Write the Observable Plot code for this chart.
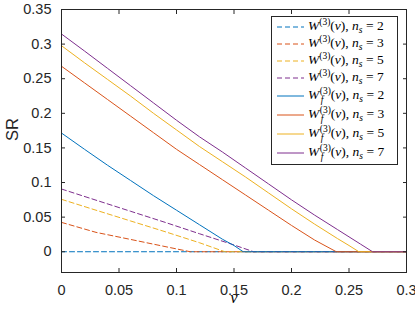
<!DOCTYPE html>
<html>
<head>
<meta charset="utf-8">
<script src="https://cdn.jsdelivr.net/npm/d3@7"></script>
<script src="https://cdn.jsdelivr.net/npm/@observablehq/plot@0.6"></script>
<style>
  body { margin: 0; background: #fff; }
  #wrap { position: relative; width: 415px; height: 316px; overflow: hidden; }
  #legend { position: absolute; left: 271px; top: 16px; width: 127px; height: 149px; box-sizing: border-box;
            border: 1px solid #262626; background: #fff; padding-top: 1px;
            font-family: "Liberation Serif", "DejaVu Serif", serif; font-size: 13.5px; color: #000; }
  .row { display: flex; align-items: center; height: 17px; white-space: nowrap; }
  .row.tall { height: 19px; }
  .row svg { margin-left: 5px; margin-right: 4px; flex: none; }
  .txt { line-height: 13px; }
  .sup { font-size: 9.5px; position: relative; top: -5px; }
  .sub { font-size: 9.5px; position: relative; top: 3px; font-style: italic; }
  .stack { display: inline-flex; flex-direction: column; vertical-align: middle; font-size: 9.5px; line-height: 8.5px; margin-left: 0.5px; }
  .stack .s2 { font-style: italic; padding-left: 1px; }
</style>
</head>
<body>
<div id="wrap"></div>
<script>
// ---- data ----
const seriesKeys = ["W_ns2", "W_ns3", "W_ns5", "W_ns7", "Wf_ns2", "Wf_ns3", "Wf_ns5", "Wf_ns7"];
const nsValues = [2, 3, 5, 7, 2, 3, 5, 7];
const isFeasible = [false, false, false, false, true, true, true, true];

// [v, SR]
const W_ns2 = [[0, 0], [0.3, 0]];
const W_ns3 = [[0, 0.0424], [0.03, 0.028], [0.06, 0.0178], [0.09, 0.0075], [0.112, 0], [0.3, 0]];
const W_ns5 = [[0, 0.0757], [0.03, 0.06], [0.06, 0.0445], [0.09, 0.029], [0.12, 0.013], [0.142, 0], [0.3, 0]];
const W_ns7 = [[0, 0.0906], [0.03, 0.0745], [0.06, 0.0585], [0.09, 0.0425], [0.12, 0.026], [0.15, 0.0098], [0.167, 0], [0.3, 0]];
const Wf_ns2 = [[0, 0.1715], [0.02, 0.148], [0.04, 0.125], [0.06, 0.103], [0.08, 0.081], [0.1, 0.06], [0.12, 0.039], [0.14, 0.018], [0.15, 0.009], [0.158, 0], [0.3, 0]];
const Wf_ns3 = [[0, 0.268], [0.02, 0.244], [0.04, 0.22], [0.06, 0.196], [0.08, 0.172], [0.1, 0.148], [0.12, 0.126], [0.14, 0.104], [0.16, 0.082], [0.18, 0.06], [0.2, 0.038], [0.22, 0.017], [0.23, 0.008], [0.239, 0], [0.3, 0]];
const Wf_ns5 = [[0, 0.2977], [0.02, 0.273], [0.04, 0.249], [0.06, 0.225], [0.08, 0.2], [0.1, 0.176], [0.12, 0.152], [0.14, 0.13], [0.16, 0.108], [0.18, 0.085], [0.2, 0.062], [0.22, 0.04], [0.24, 0.019], [0.25, 0.009], [0.2586, 0], [0.3, 0]];
const Wf_ns7 = [[0, 0.3146], [0.02, 0.29], [0.04, 0.265], [0.06, 0.24], [0.08, 0.215], [0.1, 0.19], [0.12, 0.166], [0.14, 0.144], [0.16, 0.121], [0.18, 0.098], [0.2, 0.075], [0.22, 0.053], [0.24, 0.032], [0.26, 0.011], [0.2705, 0], [0.3, 0]];

const xTicks = [0, 0.05, 0.1, 0.15, 0.2, 0.25, 0.3];
const xTickLabels = ["0", "0.05", "0.1", "0.15", "0.2", "0.25", "0.3"];
const yTicks = [0, 0.05, 0.1, 0.15, 0.2, 0.25, 0.3, 0.35];
const yTickLabels = ["0", "0.05", "0.1", "0.15", "0.2", "0.25", "0.3", "0.35"];

// ---- styles ----
const seriesColors = ["#0072BD", "#D95319", "#EDB120", "#7E2F8E", "#0072BD", "#D95319", "#EDB120", "#7E2F8E"];
const dash = "5,3";

const seriesData = [W_ns2, W_ns3, W_ns5, W_ns7, Wf_ns2, Wf_ns3, Wf_ns5, Wf_ns7];
const rows = seriesData.flatMap((arr, k) => arr.map(([v, sr]) => ({series: seriesKeys[k], v, sr})));

const lineMarks = seriesKeys.map((key, k) =>
  Plot.line(rows.filter(d => d.series === key), {
    x: "v", y: "sr", stroke: seriesColors[k], strokeWidth: 1,
    strokeDasharray: isFeasible[k] ? null : dash
  })
);

const axisColor = "#262626";
const chart = Plot.plot({
  width: 415, height: 316,
  marginLeft: 61, marginRight: 9, marginTop: 9, marginBottom: 44,
  x: {domain: [0, 0.3]},
  y: {domain: [-0.03, 0.35]},
  style: {fontFamily: '"Liberation Sans", Arial, sans-serif', fontSize: "14.5px", color: axisColor, background: "white"},
  marks: [
    ...lineMarks,
    Plot.frame({stroke: axisColor, strokeWidth: 1}),
    Plot.axisX(xTicks, {anchor: "bottom", tickSize: -4, tickPadding: 16, stroke: axisColor,
      tickFormat: d => xTickLabels[xTicks.indexOf(d)], label: null}),
    Plot.axisX(xTicks, {anchor: "top", tickSize: -4, stroke: axisColor, tickFormat: () => "", label: null}),
    Plot.axisY(yTicks, {anchor: "left", tickSize: -4, tickPadding: 14, stroke: axisColor,
      tickFormat: d => yTickLabels[yTicks.indexOf(d)], label: null}),
    Plot.axisY(yTicks, {anchor: "right", tickSize: -4, stroke: axisColor, tickFormat: () => "", label: null}),
    Plot.text(["SR"], {frameAnchor: "left", dx: -49, rotate: -90, fontSize: 16.5, fill: axisColor}),
    Plot.text(["v"], {frameAnchor: "bottom", dy: 30, fontSize: 16.5, fontStyle: "italic",
      fontFamily: '"Liberation Serif", serif', fill: "#000"})
  ]
});

const wrap = document.getElementById("wrap");
wrap.appendChild(chart);

// ---- legend (inside the axes, upper right) ----
const legend = document.createElement("div");
legend.id = "legend";
seriesKeys.forEach((key, k) => {
  const row = document.createElement("div");
  row.className = "row" + (isFeasible[k] ? " tall" : "");
  const da = isFeasible[k] ? "" : `stroke-dasharray="${dash}"`;
  const w = isFeasible[k]
    ? `<i>W</i><span class="stack"><span class="s1">(3)</span><span class="s2">f</span></span>`
    : `<i>W</i><span class="sup">(3)</span>`;
  row.innerHTML =
    `<svg width="27" height="4"><line x1="0" x2="27" y1="2" y2="2" stroke="${seriesColors[k]}" stroke-width="1" ${da}/></svg>` +
    `<span class="txt">${w}(<i>v</i>), <i>n</i><span class="sub">s</span> = ${nsValues[k]}</span>`;
  legend.appendChild(row);
});
wrap.appendChild(legend);
</script>
</body>
</html>
